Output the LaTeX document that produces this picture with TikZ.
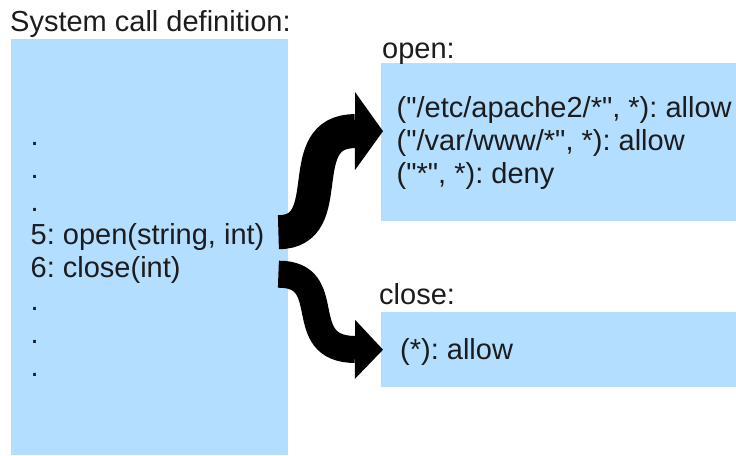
\documentclass[tikz,border=0pt]{standalone}
\usepackage{fontspec}
\setmainfont{Liberation Sans}[Ligatures=TeXOff]
\usetikzlibrary{arrows.meta}
\definecolor{boxblue}{RGB}{179,222,255}
\definecolor{textgray}{RGB}{28,28,28}
\frenchspacing

\begin{document}
\begin{tikzpicture}[
    x=1pt, y=-1pt,
    panel/.style={rectangle, fill=boxblue, inner sep=0pt, anchor=north west},
    txt/.style={anchor=base west, inner sep=0pt, text=textgray, font=\fontsize{29}{33}\selectfont},
    listing/.style={txt, align=left},
    bigarrow/.style={draw=black, -{Triangle[width=#1, length=28pt, line width=0pt]}}
]
    \useasboundingbox (0,0) rectangle (736,455);

    % Boxes
    \node[panel, minimum width=277, minimum height=416] (defbox) at (11,39) {};
    \node[panel, minimum width=355, minimum height=158] (openbox) at (381,63) {};
    \node[panel, minimum width=355, minimum height=75] (closebox) at (381,312) {};

    % Headings
    \node[txt] (title) at (10,31.5) {System call definition:};
    \node[txt] (openlabel) at (382,58) {open:};
    \node[txt] (closelabel) at (379,304) {close:};

    % Contents (anchored at the last line)
    \node[listing] (deftext) at (30.5,376) {.\\.\\.\\5: open(string, int)\\6: close(int)\\.\\.\\.};
    \node[listing] (opentext) at (396.5,183) {("/etc/apache2/*", *): allow\\("/var/www/*", *): allow\\("*", *): deny};
    \node[txt] (closetext) at (400,359) {(*): allow};

    % Arrows
    \coordinate (openout) at ([xshift=-10pt, yshift=15pt]defbox.east);
    \coordinate (closeout) at ([xshift=-10pt, yshift=-27pt]defbox.east);
    \draw[bigarrow=78pt, line width=34pt] (openout) .. controls (340,232) and (290,131)
        .. ([xshift=2pt, yshift=11pt]openbox.west);
    \draw[bigarrow=59pt, line width=27pt] (closeout) .. controls (338,274) and (292,349)
        .. ([xshift=2pt]closebox.west);

\end{tikzpicture}
\end{document}
